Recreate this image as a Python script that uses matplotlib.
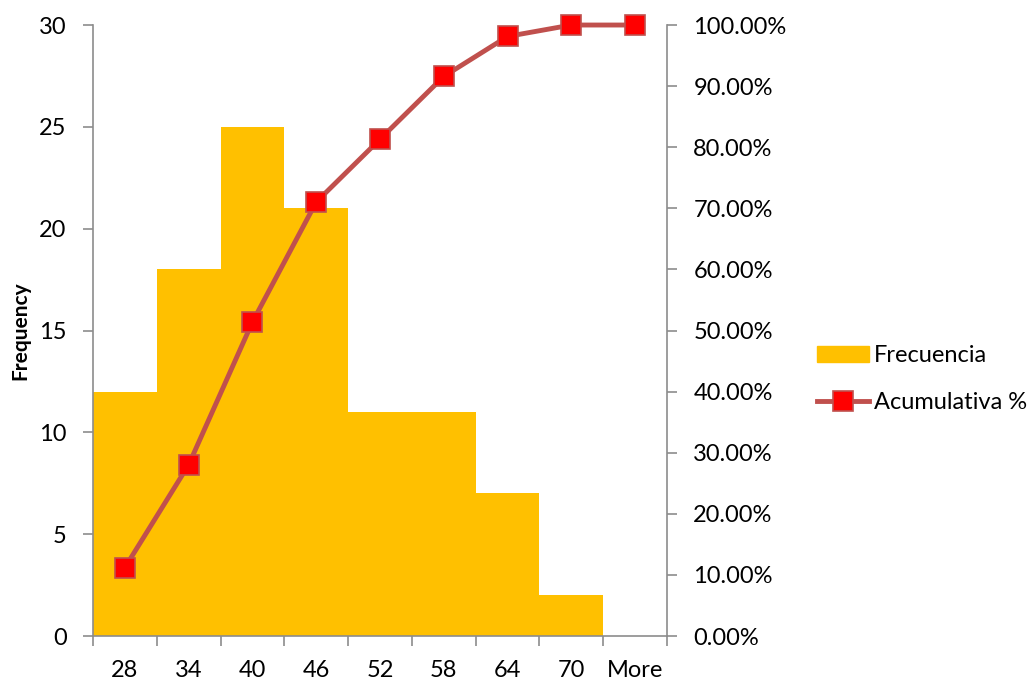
import matplotlib.pyplot as plt
import matplotlib.ticker as mticker
from matplotlib.patches import Patch
from matplotlib.lines import Line2D

plt.rcParams['font.family'] = ['Lato', 'DejaVu Sans']

bins = ['28', '34', '40', '46', '52', '58', '64', '70', 'More']
freq = [12, 18, 25, 21, 11, 11, 7, 2, 0]
cum_pct = [11.21, 28.04, 51.40, 71.03, 81.31, 91.59, 98.13, 100.0, 100.0]

axis_col = '#8c8c8c'
fig = plt.figure(figsize=(10.35, 6.8), dpi=100)
ax = fig.add_axes([0.0899, 0.0647, 0.5545, 0.8985])
x = range(len(bins))
ax.bar(x, freq, width=1.0, color='#FFC000', zorder=1)
ax.set_xlim(-0.5, len(bins) - 0.5)
ax.set_ylim(0, 30)
ax.set_yticks(range(0, 31, 5))
ax.set_xticks(list(x))
ax.set_xticklabels(bins)
ax.set_xticks([i - 0.5 for i in range(len(bins) + 1)], minor=True)
ax.tick_params(axis='x', which='major', length=0, labelsize=17, pad=17)
ax.tick_params(axis='x', which='minor', length=7, color=axis_col, width=1.2)
ax.tick_params(axis='y', length=7, color=axis_col, width=1.2, labelsize=17, pad=12)
ax.set_ylabel('Frequency', fontsize=15, fontweight='bold', labelpad=6)
for s in ['top', 'right']:
    ax.spines[s].set_visible(False)
for s in ['left', 'bottom']:
    ax.spines[s].set_color(axis_col)
    ax.spines[s].set_linewidth(1.2)

ax2 = ax.twinx()
ax2.plot(list(x), cum_pct, color='#C0504D', lw=3.5, marker='s', ms=14,
         mfc='#FF0000', mec='#C0504D', mew=1.2, zorder=3, clip_on=False)
ax2.set_ylim(0, 100)
ax2.set_yticks(range(0, 101, 10))
ax2.yaxis.set_major_formatter(mticker.FuncFormatter(lambda v, p: f'{v:.2f}%'))
ax2.tick_params(axis='y', length=7, color=axis_col, width=1.2, labelsize=17, pad=12)
for s in ['top', 'left', 'bottom']:
    ax2.spines[s].set_visible(False)
ax2.spines['right'].set_color(axis_col)
ax2.spines['right'].set_linewidth(1.2)

handles = [Patch(color='#FFC000'),
           Line2D([], [], color='#C0504D', lw=3.5, marker='s', ms=14,
                  mfc='#FF0000', mec='#C0504D', mew=1.2)]
fig.legend(handles, ['Frecuencia', 'Acumulativa %'], loc='center left',
           bbox_to_anchor=(0.769, 0.442), frameon=False, fontsize=17,
           handlelength=2.2, handletextpad=0.2, labelspacing=1.1)

fig.savefig('out.png', dpi=100)
